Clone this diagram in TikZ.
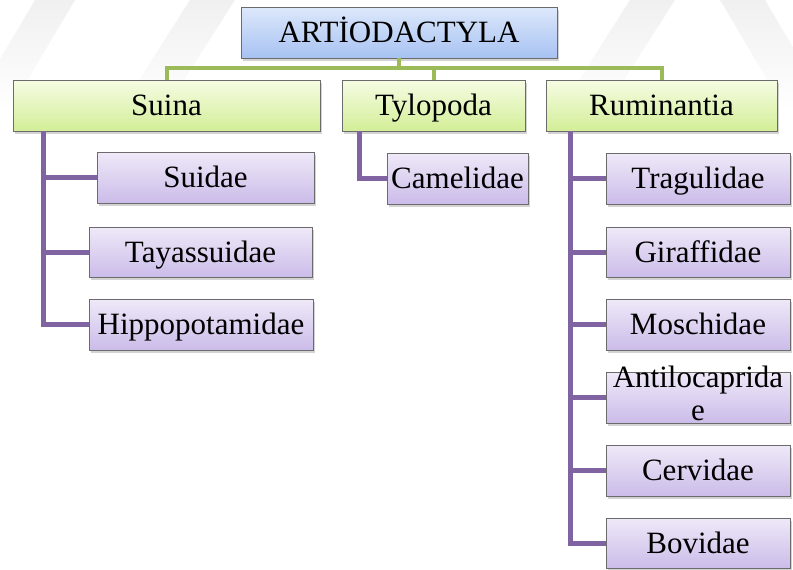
\documentclass[tikz,border=0pt]{standalone}
\usepackage{fontspec}
\setmainfont{Liberation Serif}
\usetikzlibrary{shadows,fadings}
\definecolor{gline}{HTML}{9BBB59}
\definecolor{pline}{HTML}{8064A2}
\definecolor{btop}{HTML}{DDE8FB}
\definecolor{bbot}{HTML}{A7C2F2}
\definecolor{gtop}{HTML}{F6FCE4}
\definecolor{gbot}{HTML}{D3EE97}
\definecolor{ptop}{HTML}{EFE9F8}
\definecolor{pbot}{HTML}{CBBCE9}
\definecolor{edge}{HTML}{6B6B6B}
\tikzset{
  basebox/.style={rectangle, draw=edge, line width=0.8pt, inner sep=0pt,
    minimum height=51pt, text height=23pt, text depth=3pt, text=black,
    font=\fontsize{31}{33}\selectfont,
    drop shadow={shadow xshift=2pt, shadow yshift=-2.5pt, opacity=0.35}},
  bluebox/.style={basebox, top color=btop, bottom color=bbot},
  greenbox/.style={basebox, top color=gtop, bottom color=gbot},
  purplebox/.style={basebox, top color=ptop, bottom color=pbot},
  gl/.style={draw=gline, line width=4pt},
  pl/.style={draw=pline, line width=5pt},
  wm/.style={fill=black!6, path fading=south}
}
\begin{document}
\begin{tikzpicture}[x=1pt,y=-1pt]
\useasboundingbox (0,0) rectangle (793,570);
% faint watermark bands
\fill[wm] (-30,110) -- (10,110) -- (75,0) -- (35,0) -- cycle;
\fill[wm] (120,110) -- (165,110) -- (235,0) -- (190,0) -- cycle;
\fill[wm] (560,110) -- (605,110) -- (675,0) -- (630,0) -- cycle;
\fill[wm] (720,0) -- (765,0) -- (830,110) -- (785,110) -- cycle;
% level 0
\node[bluebox, minimum width=316pt] (art) at (399,32.5) {ARTİODACTYLA};
% level 1
\node[greenbox, minimum width=307pt] (suina) at (166.5,105.5) {Suina};
\node[greenbox, minimum width=183pt] (tylo) at (433.5,105.5) {Tylopoda};
\node[greenbox, minimum width=231pt] (rumi) at (661.5,105.5) {Ruminantia};
% Suina children
\node[purplebox, minimum width=217pt] (suidae) at (205.5,177.5) {Suidae};
\node[purplebox, minimum width=223pt, minimum height=50pt] (tayas) at (200.5,252) {Tayassuidae};
\node[purplebox, minimum width=224pt] (hippo) at (201,324.5) {Hippopotamidae};
% Tylopoda children
\node[purplebox, minimum width=141pt] (camel) at (457.5,178.5) {Camelidae};
% Ruminantia children
\node[purplebox, minimum width=184pt] (tragu) at (698,178.5) {Tragulidae};
\node[purplebox, minimum width=184pt, minimum height=50pt] (giraf) at (698,252) {Giraffidae};
\node[purplebox, minimum width=184pt] (mosch) at (698,324.5) {Moschidae};
\node[purplebox, minimum width=184pt] (antilo) at (698,397.5) {};
\node[align=center, inner sep=0pt, font=\fontsize{31}{33}\selectfont, yshift=4.5pt] (antilotxt) at (antilo.center) {Antilocaprida\\e};
\node[purplebox, minimum width=184pt] (cerv) at (698,470.5) {Cervidae};
\node[purplebox, minimum width=184pt, minimum height=50pt] (bov) at (698,543) {Bovidae};
% green connectors
\coordinate (bus) at (399,68);
\draw[gl] (art.south) -- (bus);
\draw[gl] (suina.north) |- (bus) -| (rumi.north);
\draw[gl] (tylo.north) -- (tylo.north |- bus);
% purple connectors
\coordinate (sv) at (43,0);
\coordinate (tv) at (359,0);
\coordinate (rv) at (570,0);
\draw[pl] (suina.south -| sv) |- (hippo.west);
\draw[pl] (sv |- suidae.west) -- (suidae.west);
\draw[pl] (sv |- tayas.west) -- (tayas.west);
\draw[pl] (tylo.south -| tv) |- (camel.west);
\draw[pl] (rumi.south -| rv) |- (bov.west);
\draw[pl] (rv |- tragu.west) -- (tragu.west);
\draw[pl] (rv |- giraf.west) -- (giraf.west);
\draw[pl] (rv |- mosch.west) -- (mosch.west);
\draw[pl] (rv |- antilo.west) -- (antilo.west);
\draw[pl] (rv |- cerv.west) -- (cerv.west);
\end{tikzpicture}
\end{document}
